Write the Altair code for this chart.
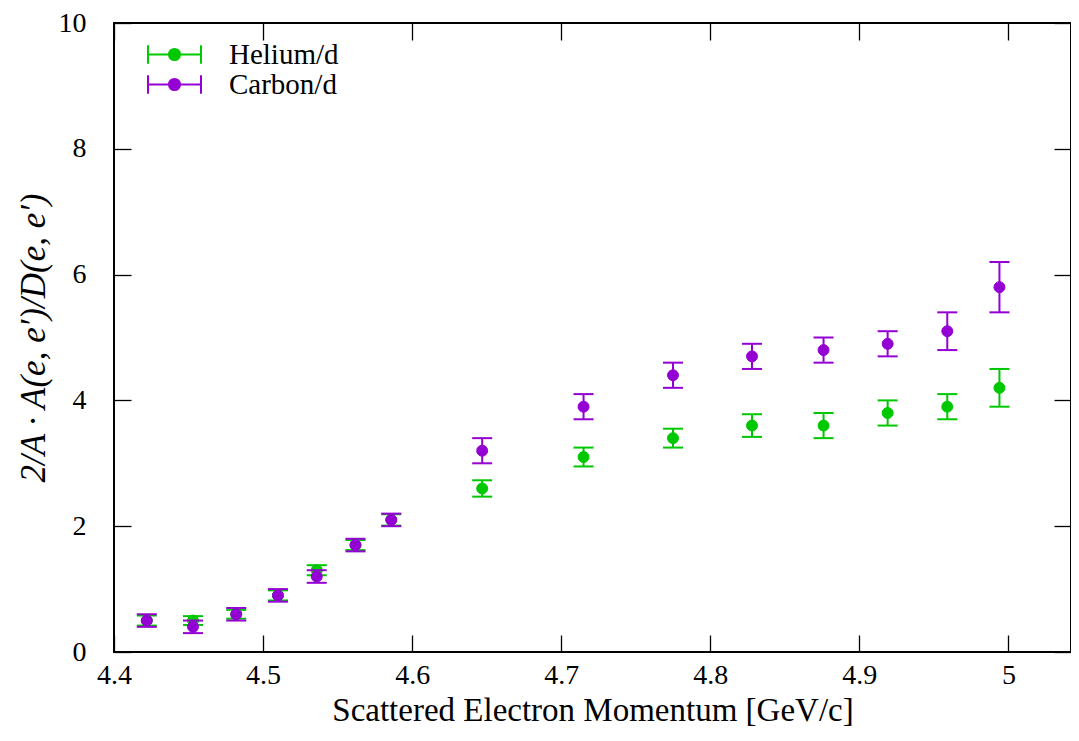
import altair as alt
import pandas as pd

# ---- data ----
momentum = [4.422, 4.453, 4.482, 4.510, 4.536, 4.562, 4.586, 4.647, 4.715,
            4.775, 4.828, 4.876, 4.919, 4.959, 4.994]
helium = [0.5, 0.5, 0.6, 0.9, 1.3, 1.7, 2.1, 2.6, 3.1, 3.4, 3.6, 3.6, 3.8, 3.9, 4.2]
helium_err = [0.08, 0.07, 0.07, 0.08, 0.08, 0.08, 0.09, 0.13, 0.15, 0.15, 0.18, 0.2, 0.2, 0.2, 0.3]
carbon = [0.5, 0.4, 0.6, 0.9, 1.2, 1.7, 2.1, 3.2, 3.9, 4.4, 4.7, 4.8, 4.9, 5.1, 5.8]
carbon_err = [0.1, 0.1, 0.1, 0.1, 0.1, 0.1, 0.1, 0.2, 0.2, 0.2, 0.2, 0.2, 0.2, 0.3, 0.4]

series_names = ["Helium/d", "Carbon/d"]
series_colors = ["#00c800", "#9400d3"]
x_ticks = [4.4, 4.5, 4.6, 4.7, 4.8, 4.9, 5.0]
y_ticks = [0, 2, 4, 6, 8, 10]
x_domain = [4.4, 5.042]
y_domain = [0, 10]


def frame(name, vals, errs):
    return pd.DataFrame({
        "p": momentum,
        "r": vals,
        "lo": [v - e for v, e in zip(vals, errs)],
        "hi": [v + e for v, e in zip(vals, errs)],
        "series": name,
    })


df_he = frame(series_names[0], helium, helium_err)
df_c = frame(series_names[1], carbon, carbon_err)
df_all = pd.concat([df_he, df_c], ignore_index=True)

FONT = "Liberation Serif"
xs = alt.Scale(domain=x_domain, nice=False, zero=False)
ys = alt.Scale(domain=y_domain, nice=False, zero=False)
cs = alt.Scale(domain=series_names, range=series_colors)

legend_path = ("M-2,0H2M-2,-0.7V0.7M2,-0.7V0.7"
               "M-0.42,0A0.42,0.42,0,1,0,0.42,0A0.42,0.42,0,1,0,-0.42,0Z")
legend = alt.Legend(
    title=None, orient="none", legendX=46, legendY=17,
    symbolType=legend_path, symbolSize=702, symbolStrokeWidth=2,
    labelFont=FONT, labelFontSize=29, labelColor="black",
    labelOffset=40, rowPadding=0, padding=0,
)

bottom_axis = alt.Axis(
    orient="bottom", values=x_ticks, format="~g", offset=-17, tickSize=17,
    domain=False, grid=False, labelPadding=9, labelFlush=False,
    title="Scattered Electron Momentum [GeV/c]", titlePadding=5,
)
left_axis = alt.Axis(
    orient="left", values=y_ticks, format="d", offset=-17, tickSize=17,
    domain=False, grid=False, labelPadding=28, labelFlush=False,
    title="2/A · A(e, e′)/D(e, e′)", titleFontStyle="italic", titlePadding=7,
    titleFontSize=35,
)
top_axis = alt.Axis(
    orient="top", values=x_ticks, offset=-17, tickSize=17, domain=False,
    grid=False, labels=False, title=None,
)
right_axis = alt.Axis(
    orient="right", values=y_ticks, offset=-17, tickSize=17, domain=False,
    grid=False, labels=False, title=None,
)


def series_layers(df, with_axes):
    xa = bottom_axis if with_axes else None
    ya = left_axis if with_axes else None
    base = alt.Chart(df)
    stroke = alt.Stroke("series:N", scale=cs, legend=legend)
    bar = base.mark_rule(strokeWidth=2).encode(
        x=alt.X("p:Q", scale=xs, axis=xa),
        y=alt.Y("lo:Q", scale=ys, axis=ya),
        y2="hi:Q",
        stroke=stroke,
    )
    cap_lo = base.mark_rule(strokeWidth=2, xOffset=-10, x2Offset=10).encode(
        x=alt.X("p:Q", scale=xs, axis=None),
        x2="p:Q",
        y=alt.Y("lo:Q", scale=ys, axis=None),
        stroke=stroke,
    )
    cap_hi = base.mark_rule(strokeWidth=2, xOffset=-10, x2Offset=10).encode(
        x=alt.X("p:Q", scale=xs, axis=None),
        x2="p:Q",
        y=alt.Y("hi:Q", scale=ys, axis=None),
        stroke=stroke,
    )
    pts = base.mark_point(filled=True, size=120, strokeWidth=1, opacity=1).encode(
        x=alt.X("p:Q", scale=xs, axis=None),
        y=alt.Y("r:Q", scale=ys, axis=None),
        fill=alt.Fill("series:N", scale=cs, legend=legend),
        stroke=stroke,
    )
    return [bar, cap_lo, cap_hi, pts]


mirror = alt.Chart(df_all).mark_point(opacity=0).encode(
    x=alt.X("p:Q", scale=xs, axis=top_axis),
    y=alt.Y("r:Q", scale=ys, axis=right_axis),
)

chart = alt.layer(
    *series_layers(df_he, True), *series_layers(df_c, False), mirror
).resolve_axis(
    x="independent", y="independent"
).properties(
    width=957, height=629,
    padding={"left": 106, "top": 15, "right": 0, "bottom": 80},
    autosize=alt.AutoSizeParams(type="none"),
    background="white",
).configure_view(
    stroke="black", strokeWidth=2
).configure_axis(
    labelFont=FONT, labelFontSize=28, labelColor="black",
    titleFont=FONT, titleFontSize=33, titleColor="black", titleFontWeight="normal",
    tickColor="black", tickWidth=1.3,
)

chart.save("out.html", embed_options={"renderer": "svg", "actions": False})
